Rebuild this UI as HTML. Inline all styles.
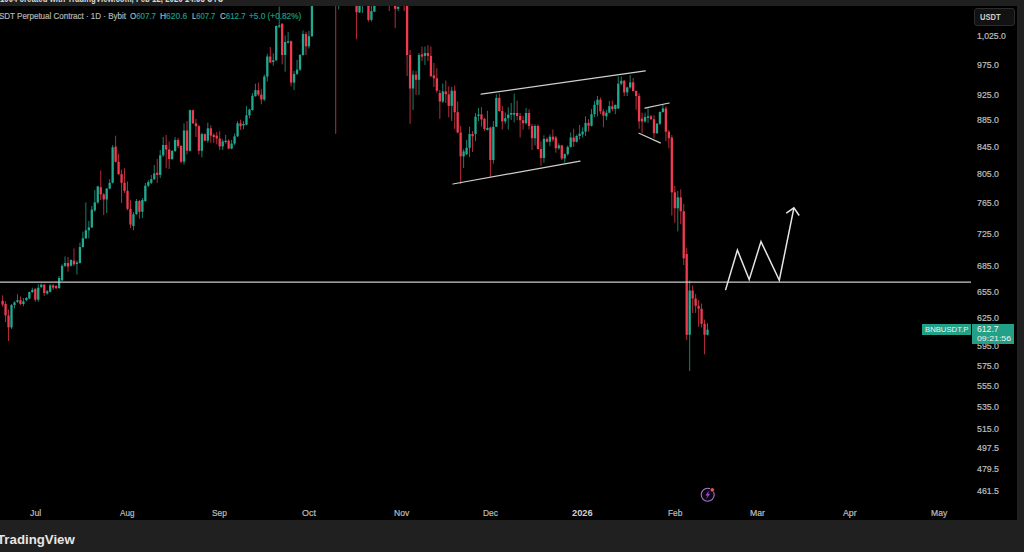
<!DOCTYPE html>
<html><head><meta charset="utf-8">
<style>
*{margin:0;padding:0;box-sizing:border-box}
html,body{width:1024px;height:552px;overflow:hidden;background:#202020;font-family:"Liberation Sans",sans-serif}
#chart{position:absolute;left:0;top:6px;width:1017px;height:514px;background:#000}
svg{position:absolute;left:0;top:0}
.t{position:absolute;white-space:pre;line-height:1;transform-origin:0 0}
.t.n{-webkit-text-stroke:0.2px currentColor}
.usdt{position:absolute;left:973.5px;top:8px;width:41.5px;height:17.5px;border:1px solid #2c2c2c;border-radius:3px;background:#121212}
.bnbl{z-index:1;position:absolute;left:922px;top:324.4px;width:49.2px;height:10.5px;background:#22a088}
.pbox{z-index:1;position:absolute;left:971.9px;top:324.4px;width:42.4px;height:19.4px;background:#22a088}
.topclip{position:absolute;left:0;top:0;width:1024px;height:6px;overflow:hidden}
</style></head><body>
<div id="chart"></div>
<svg width="1024" height="552" viewBox="0 0 1024 552">
<defs><clipPath id="cp"><rect x="0" y="6" width="1017" height="514"/></clipPath></defs>
<g clip-path="url(#cp)">
<rect x="2.08" y="295.3" width="1.0" height="11.4" fill="#f23a4f" fill-opacity="0.75"/><rect x="1.43" y="300.8" width="2.3" height="3.8" fill="#f23a4f"/>
<rect x="5.06" y="301.3" width="1.0" height="20.7" fill="#f23a4f" fill-opacity="0.75"/><rect x="4.41" y="304.0" width="2.3" height="11.4" fill="#f23a4f"/>
<rect x="8.03" y="309.5" width="1.0" height="31.5" fill="#f23a4f" fill-opacity="0.75"/><rect x="7.38" y="315.4" width="2.3" height="12.0" fill="#f23a4f"/>
<rect x="11.00" y="304.0" width="1.0" height="25.0" fill="#21a88f" fill-opacity="0.75"/><rect x="10.35" y="305.1" width="2.3" height="22.3" fill="#21a88f"/>
<rect x="13.98" y="301.3" width="1.0" height="7.1" fill="#21a88f" fill-opacity="0.75"/><rect x="13.33" y="302.4" width="2.3" height="2.7" fill="#21a88f"/>
<rect x="16.95" y="294.2" width="1.0" height="8.8" fill="#21a88f" fill-opacity="0.75"/><rect x="16.30" y="300.2" width="2.3" height="1.6" fill="#21a88f"/>
<rect x="19.93" y="296.4" width="1.0" height="8.7" fill="#f23a4f" fill-opacity="0.75"/><rect x="19.28" y="300.2" width="2.3" height="3.8" fill="#f23a4f"/>
<rect x="22.90" y="298.0" width="1.0" height="8.2" fill="#21a88f" fill-opacity="0.75"/><rect x="22.25" y="301.3" width="2.3" height="2.7" fill="#21a88f"/>
<rect x="25.88" y="297.0" width="1.0" height="4.3" fill="#21a88f" fill-opacity="0.75"/><rect x="25.23" y="298.0" width="2.3" height="2.2" fill="#21a88f"/>
<rect x="28.85" y="291.5" width="1.0" height="7.7" fill="#21a88f" fill-opacity="0.75"/><rect x="28.20" y="292.0" width="2.3" height="6.6" fill="#21a88f"/>
<rect x="31.83" y="287.7" width="1.0" height="5.4" fill="#21a88f" fill-opacity="0.75"/><rect x="31.18" y="289.9" width="2.3" height="2.1" fill="#21a88f"/>
<rect x="34.80" y="288.3" width="1.0" height="13.5" fill="#f23a4f" fill-opacity="0.75"/><rect x="34.15" y="288.8" width="2.3" height="10.9" fill="#f23a4f"/>
<rect x="37.77" y="284.1" width="1.0" height="17.7" fill="#21a88f" fill-opacity="0.75"/><rect x="37.12" y="287.7" width="2.3" height="12.0" fill="#21a88f"/>
<rect x="40.75" y="283.5" width="1.0" height="4.7" fill="#21a88f" fill-opacity="0.75"/><rect x="40.10" y="284.7" width="2.3" height="2.3" fill="#21a88f"/>
<rect x="43.72" y="284.1" width="1.0" height="11.8" fill="#f23a4f" fill-opacity="0.75"/><rect x="43.07" y="284.7" width="2.3" height="8.3" fill="#f23a4f"/>
<rect x="46.70" y="290.0" width="1.0" height="4.7" fill="#21a88f" fill-opacity="0.75"/><rect x="46.05" y="291.2" width="2.3" height="2.3" fill="#21a88f"/>
<rect x="49.67" y="284.1" width="1.0" height="8.3" fill="#21a88f" fill-opacity="0.75"/><rect x="49.02" y="285.3" width="2.3" height="6.5" fill="#21a88f"/>
<rect x="52.65" y="284.1" width="1.0" height="5.9" fill="#f23a4f" fill-opacity="0.75"/><rect x="52.00" y="285.3" width="2.3" height="2.3" fill="#f23a4f"/>
<rect x="55.62" y="285.0" width="1.0" height="4.0" fill="#f23a4f" fill-opacity="0.75"/><rect x="54.97" y="286.0" width="2.3" height="2.2" fill="#f23a4f"/>
<rect x="58.60" y="276.0" width="1.0" height="13.0" fill="#21a88f" fill-opacity="0.75"/><rect x="57.95" y="278.0" width="2.3" height="10.0" fill="#21a88f"/>
<rect x="61.57" y="264.3" width="1.0" height="16.7" fill="#21a88f" fill-opacity="0.75"/><rect x="60.92" y="265.8" width="2.3" height="14.5" fill="#21a88f"/>
<rect x="64.54" y="256.4" width="1.0" height="10.6" fill="#21a88f" fill-opacity="0.75"/><rect x="63.89" y="263.0" width="2.3" height="2.8" fill="#21a88f"/>
<rect x="67.52" y="257.0" width="1.0" height="14.6" fill="#f23a4f" fill-opacity="0.75"/><rect x="66.87" y="263.0" width="2.3" height="3.5" fill="#f23a4f"/>
<rect x="70.49" y="259.3" width="1.0" height="7.2" fill="#21a88f" fill-opacity="0.75"/><rect x="69.84" y="260.0" width="2.3" height="5.8" fill="#21a88f"/>
<rect x="73.47" y="248.4" width="1.0" height="17.4" fill="#f23a4f" fill-opacity="0.75"/><rect x="72.82" y="260.7" width="2.3" height="3.6" fill="#f23a4f"/>
<rect x="76.44" y="260.7" width="1.0" height="13.8" fill="#21a88f" fill-opacity="0.75"/><rect x="75.79" y="262.5" width="2.3" height="1.5" fill="#21a88f"/>
<rect x="79.42" y="242.6" width="1.0" height="21.0" fill="#21a88f" fill-opacity="0.75"/><rect x="78.77" y="247.0" width="2.3" height="16.0" fill="#21a88f"/>
<rect x="82.39" y="231.7" width="1.0" height="16.0" fill="#21a88f" fill-opacity="0.75"/><rect x="81.74" y="238.3" width="2.3" height="8.7" fill="#21a88f"/>
<rect x="85.36" y="202.4" width="1.0" height="36.6" fill="#21a88f" fill-opacity="0.75"/><rect x="84.71" y="230.3" width="2.3" height="8.0" fill="#21a88f"/>
<rect x="88.34" y="220.9" width="1.0" height="17.4" fill="#21a88f" fill-opacity="0.75"/><rect x="87.69" y="227.4" width="2.3" height="2.9" fill="#21a88f"/>
<rect x="91.31" y="206.0" width="1.0" height="22.0" fill="#21a88f" fill-opacity="0.75"/><rect x="90.66" y="209.6" width="2.3" height="17.8" fill="#21a88f"/>
<rect x="94.29" y="190.0" width="1.0" height="21.8" fill="#21a88f" fill-opacity="0.75"/><rect x="93.64" y="202.4" width="2.3" height="8.0" fill="#21a88f"/>
<rect x="97.26" y="185.7" width="1.0" height="18.1" fill="#21a88f" fill-opacity="0.75"/><rect x="96.61" y="186.4" width="2.3" height="16.0" fill="#21a88f"/>
<rect x="100.24" y="170.5" width="1.0" height="29.5" fill="#f23a4f" fill-opacity="0.75"/><rect x="99.59" y="187.2" width="2.3" height="7.2" fill="#f23a4f"/>
<rect x="103.21" y="193.0" width="1.0" height="22.0" fill="#f23a4f" fill-opacity="0.75"/><rect x="102.56" y="194.4" width="2.3" height="5.1" fill="#f23a4f"/>
<rect x="106.19" y="188.0" width="1.0" height="25.0" fill="#21a88f" fill-opacity="0.75"/><rect x="105.54" y="188.6" width="2.3" height="10.9" fill="#21a88f"/>
<rect x="109.16" y="179.2" width="1.0" height="10.1" fill="#21a88f" fill-opacity="0.75"/><rect x="108.51" y="182.8" width="2.3" height="5.8" fill="#21a88f"/>
<rect x="112.13" y="145.1" width="1.0" height="38.4" fill="#21a88f" fill-opacity="0.75"/><rect x="111.48" y="147.3" width="2.3" height="35.5" fill="#21a88f"/>
<rect x="115.11" y="135.7" width="1.0" height="26.8" fill="#f23a4f" fill-opacity="0.75"/><rect x="114.46" y="146.6" width="2.3" height="15.2" fill="#f23a4f"/>
<rect x="118.08" y="153.8" width="1.0" height="21.1" fill="#f23a4f" fill-opacity="0.75"/><rect x="117.43" y="161.8" width="2.3" height="12.3" fill="#f23a4f"/>
<rect x="121.06" y="169.8" width="1.0" height="33.2" fill="#f23a4f" fill-opacity="0.75"/><rect x="120.41" y="174.1" width="2.3" height="8.7" fill="#f23a4f"/>
<rect x="124.03" y="168.3" width="1.0" height="24.7" fill="#f23a4f" fill-opacity="0.75"/><rect x="123.38" y="182.8" width="2.3" height="8.0" fill="#f23a4f"/>
<rect x="127.01" y="181.4" width="1.0" height="29.0" fill="#f23a4f" fill-opacity="0.75"/><rect x="126.36" y="190.8" width="2.3" height="18.1" fill="#f23a4f"/>
<rect x="129.98" y="200.2" width="1.0" height="27.8" fill="#f23a4f" fill-opacity="0.75"/><rect x="129.33" y="208.9" width="2.3" height="15.6" fill="#f23a4f"/>
<rect x="132.96" y="212.0" width="1.0" height="18.3" fill="#21a88f" fill-opacity="0.75"/><rect x="132.31" y="214.3" width="2.3" height="11.7" fill="#21a88f"/>
<rect x="135.93" y="199.0" width="1.0" height="16.0" fill="#21a88f" fill-opacity="0.75"/><rect x="135.28" y="201.0" width="2.3" height="13.0" fill="#21a88f"/>
<rect x="138.90" y="200.0" width="1.0" height="18.7" fill="#f23a4f" fill-opacity="0.75"/><rect x="138.25" y="201.0" width="2.3" height="10.8" fill="#f23a4f"/>
<rect x="141.88" y="198.0" width="1.0" height="20.0" fill="#21a88f" fill-opacity="0.75"/><rect x="141.23" y="200.0" width="2.3" height="11.8" fill="#21a88f"/>
<rect x="144.85" y="183.0" width="1.0" height="19.0" fill="#21a88f" fill-opacity="0.75"/><rect x="144.20" y="185.7" width="2.3" height="15.3" fill="#21a88f"/>
<rect x="147.83" y="180.0" width="1.0" height="7.0" fill="#21a88f" fill-opacity="0.75"/><rect x="147.18" y="182.0" width="2.3" height="3.7" fill="#21a88f"/>
<rect x="150.80" y="175.0" width="1.0" height="9.0" fill="#21a88f" fill-opacity="0.75"/><rect x="150.15" y="179.2" width="2.3" height="3.6" fill="#21a88f"/>
<rect x="153.78" y="165.0" width="1.0" height="15.0" fill="#21a88f" fill-opacity="0.75"/><rect x="153.13" y="173.4" width="2.3" height="5.8" fill="#21a88f"/>
<rect x="156.75" y="159.0" width="1.0" height="23.8" fill="#f23a4f" fill-opacity="0.75"/><rect x="156.10" y="172.7" width="2.3" height="2.2" fill="#f23a4f"/>
<rect x="159.72" y="150.0" width="1.0" height="28.0" fill="#21a88f" fill-opacity="0.75"/><rect x="159.07" y="155.3" width="2.3" height="19.6" fill="#21a88f"/>
<rect x="162.70" y="137.0" width="1.0" height="20.0" fill="#21a88f" fill-opacity="0.75"/><rect x="162.05" y="145.0" width="2.3" height="10.3" fill="#21a88f"/>
<rect x="165.67" y="135.0" width="1.0" height="33.3" fill="#f23a4f" fill-opacity="0.75"/><rect x="165.02" y="145.0" width="2.3" height="4.5" fill="#f23a4f"/>
<rect x="168.65" y="141.5" width="1.0" height="27.5" fill="#f23a4f" fill-opacity="0.75"/><rect x="168.00" y="149.5" width="2.3" height="9.5" fill="#f23a4f"/>
<rect x="171.62" y="150.0" width="1.0" height="10.0" fill="#21a88f" fill-opacity="0.75"/><rect x="170.97" y="151.0" width="2.3" height="8.0" fill="#21a88f"/>
<rect x="174.60" y="137.0" width="1.0" height="15.0" fill="#21a88f" fill-opacity="0.75"/><rect x="173.95" y="140.0" width="2.3" height="11.0" fill="#21a88f"/>
<rect x="177.57" y="138.0" width="1.0" height="10.0" fill="#f23a4f" fill-opacity="0.75"/><rect x="176.92" y="140.0" width="2.3" height="6.0" fill="#f23a4f"/>
<rect x="180.55" y="145.0" width="1.0" height="18.0" fill="#f23a4f" fill-opacity="0.75"/><rect x="179.90" y="146.0" width="2.3" height="15.7" fill="#f23a4f"/>
<rect x="183.52" y="123.3" width="1.0" height="41.3" fill="#21a88f" fill-opacity="0.75"/><rect x="182.87" y="130.5" width="2.3" height="31.2" fill="#21a88f"/>
<rect x="186.49" y="121.0" width="1.0" height="33.4" fill="#f23a4f" fill-opacity="0.75"/><rect x="185.84" y="130.5" width="2.3" height="20.3" fill="#f23a4f"/>
<rect x="189.47" y="109.5" width="1.0" height="42.0" fill="#21a88f" fill-opacity="0.75"/><rect x="188.82" y="110.2" width="2.3" height="40.6" fill="#21a88f"/>
<rect x="192.44" y="109.5" width="1.0" height="14.5" fill="#f23a4f" fill-opacity="0.75"/><rect x="191.79" y="110.2" width="2.3" height="13.1" fill="#f23a4f"/>
<rect x="195.42" y="118.9" width="1.0" height="18.1" fill="#f23a4f" fill-opacity="0.75"/><rect x="194.77" y="123.3" width="2.3" height="2.9" fill="#f23a4f"/>
<rect x="198.39" y="124.7" width="1.0" height="29.7" fill="#f23a4f" fill-opacity="0.75"/><rect x="197.74" y="126.2" width="2.3" height="24.6" fill="#f23a4f"/>
<rect x="201.37" y="132.7" width="1.0" height="24.6" fill="#21a88f" fill-opacity="0.75"/><rect x="200.72" y="134.1" width="2.3" height="16.7" fill="#21a88f"/>
<rect x="204.34" y="133.4" width="1.0" height="8.0" fill="#f23a4f" fill-opacity="0.75"/><rect x="203.69" y="134.1" width="2.3" height="6.6" fill="#f23a4f"/>
<rect x="207.32" y="122.5" width="1.0" height="20.3" fill="#21a88f" fill-opacity="0.75"/><rect x="206.67" y="128.3" width="2.3" height="12.4" fill="#21a88f"/>
<rect x="210.29" y="125.4" width="1.0" height="17.4" fill="#f23a4f" fill-opacity="0.75"/><rect x="209.64" y="128.3" width="2.3" height="7.3" fill="#f23a4f"/>
<rect x="213.26" y="133.4" width="1.0" height="9.4" fill="#f23a4f" fill-opacity="0.75"/><rect x="212.61" y="134.9" width="2.3" height="2.1" fill="#f23a4f"/>
<rect x="216.24" y="132.0" width="1.0" height="12.3" fill="#f23a4f" fill-opacity="0.75"/><rect x="215.59" y="135.6" width="2.3" height="2.9" fill="#f23a4f"/>
<rect x="219.21" y="131.2" width="1.0" height="18.8" fill="#f23a4f" fill-opacity="0.75"/><rect x="218.56" y="138.5" width="2.3" height="7.9" fill="#f23a4f"/>
<rect x="222.19" y="139.2" width="1.0" height="10.8" fill="#21a88f" fill-opacity="0.75"/><rect x="221.54" y="141.4" width="2.3" height="5.0" fill="#21a88f"/>
<rect x="225.16" y="134.9" width="1.0" height="8.7" fill="#21a88f" fill-opacity="0.75"/><rect x="224.51" y="140.7" width="2.3" height="1.3" fill="#21a88f"/>
<rect x="228.14" y="139.2" width="1.0" height="10.1" fill="#f23a4f" fill-opacity="0.75"/><rect x="227.49" y="140.7" width="2.3" height="7.9" fill="#f23a4f"/>
<rect x="231.11" y="139.9" width="1.0" height="9.4" fill="#21a88f" fill-opacity="0.75"/><rect x="230.46" y="143.6" width="2.3" height="5.0" fill="#21a88f"/>
<rect x="234.08" y="133.4" width="1.0" height="11.6" fill="#21a88f" fill-opacity="0.75"/><rect x="233.43" y="136.3" width="2.3" height="7.3" fill="#21a88f"/>
<rect x="237.06" y="121.1" width="1.0" height="15.9" fill="#21a88f" fill-opacity="0.75"/><rect x="236.41" y="123.3" width="2.3" height="13.0" fill="#21a88f"/>
<rect x="240.03" y="119.6" width="1.0" height="10.2" fill="#f23a4f" fill-opacity="0.75"/><rect x="239.38" y="123.3" width="2.3" height="2.9" fill="#f23a4f"/>
<rect x="243.01" y="121.1" width="1.0" height="8.0" fill="#21a88f" fill-opacity="0.75"/><rect x="242.36" y="124.0" width="2.3" height="1.5" fill="#21a88f"/>
<rect x="245.98" y="105.9" width="1.0" height="19.5" fill="#21a88f" fill-opacity="0.75"/><rect x="245.33" y="115.3" width="2.3" height="9.4" fill="#21a88f"/>
<rect x="248.96" y="108.8" width="1.0" height="9.4" fill="#21a88f" fill-opacity="0.75"/><rect x="248.31" y="109.5" width="2.3" height="5.8" fill="#21a88f"/>
<rect x="251.93" y="93.0" width="1.0" height="17.7" fill="#21a88f" fill-opacity="0.75"/><rect x="251.28" y="95.7" width="2.3" height="14.3" fill="#21a88f"/>
<rect x="254.91" y="83.7" width="1.0" height="13.0" fill="#21a88f" fill-opacity="0.75"/><rect x="254.26" y="90.2" width="2.3" height="6.0" fill="#21a88f"/>
<rect x="257.88" y="82.6" width="1.0" height="13.6" fill="#f23a4f" fill-opacity="0.75"/><rect x="257.23" y="90.2" width="2.3" height="4.4" fill="#f23a4f"/>
<rect x="260.85" y="89.1" width="1.0" height="15.2" fill="#f23a4f" fill-opacity="0.75"/><rect x="260.20" y="94.6" width="2.3" height="4.9" fill="#f23a4f"/>
<rect x="263.83" y="74.5" width="1.0" height="26.5" fill="#21a88f" fill-opacity="0.75"/><rect x="263.18" y="76.6" width="2.3" height="22.9" fill="#21a88f"/>
<rect x="266.80" y="53.8" width="1.0" height="27.7" fill="#21a88f" fill-opacity="0.75"/><rect x="266.15" y="56.5" width="2.3" height="20.1" fill="#21a88f"/>
<rect x="269.78" y="47.0" width="1.0" height="16.0" fill="#f23a4f" fill-opacity="0.75"/><rect x="269.13" y="56.5" width="2.3" height="6.0" fill="#f23a4f"/>
<rect x="272.75" y="53.3" width="1.0" height="12.5" fill="#21a88f" fill-opacity="0.75"/><rect x="272.10" y="60.3" width="2.3" height="1.7" fill="#21a88f"/>
<rect x="275.73" y="25.3" width="1.0" height="35.5" fill="#21a88f" fill-opacity="0.75"/><rect x="275.08" y="26.0" width="2.3" height="34.3" fill="#21a88f"/>
<rect x="278.70" y="6.5" width="1.0" height="21.5" fill="#21a88f" fill-opacity="0.75"/><rect x="278.05" y="25.3" width="2.3" height="1.4" fill="#21a88f"/>
<rect x="281.68" y="23.0" width="1.0" height="41.4" fill="#f23a4f" fill-opacity="0.75"/><rect x="281.03" y="23.8" width="2.3" height="31.2" fill="#f23a4f"/>
<rect x="284.65" y="35.4" width="1.0" height="36.3" fill="#21a88f" fill-opacity="0.75"/><rect x="284.00" y="42.0" width="2.3" height="13.0" fill="#21a88f"/>
<rect x="287.62" y="32.0" width="1.0" height="11.5" fill="#21a88f" fill-opacity="0.75"/><rect x="286.97" y="41.2" width="2.3" height="1.5" fill="#21a88f"/>
<rect x="290.60" y="40.5" width="1.0" height="45.9" fill="#f23a4f" fill-opacity="0.75"/><rect x="289.95" y="41.2" width="2.3" height="41.4" fill="#f23a4f"/>
<rect x="293.57" y="71.0" width="1.0" height="19.2" fill="#21a88f" fill-opacity="0.75"/><rect x="292.92" y="73.9" width="2.3" height="8.7" fill="#21a88f"/>
<rect x="296.55" y="59.8" width="1.0" height="15.2" fill="#21a88f" fill-opacity="0.75"/><rect x="295.90" y="69.6" width="2.3" height="4.3" fill="#21a88f"/>
<rect x="299.52" y="54.0" width="1.0" height="17.0" fill="#21a88f" fill-opacity="0.75"/><rect x="298.87" y="55.0" width="2.3" height="14.6" fill="#21a88f"/>
<rect x="302.50" y="30.4" width="1.0" height="25.3" fill="#21a88f" fill-opacity="0.75"/><rect x="301.85" y="34.0" width="2.3" height="21.0" fill="#21a88f"/>
<rect x="305.47" y="31.8" width="1.0" height="23.2" fill="#f23a4f" fill-opacity="0.75"/><rect x="304.82" y="34.0" width="2.3" height="12.3" fill="#f23a4f"/>
<rect x="308.44" y="31.0" width="1.0" height="17.5" fill="#21a88f" fill-opacity="0.75"/><rect x="307.79" y="36.2" width="2.3" height="10.1" fill="#21a88f"/>
<rect x="311.42" y="-20.0" width="1.0" height="57.0" fill="#21a88f" fill-opacity="0.75"/><rect x="310.77" y="-10.0" width="2.3" height="46.2" fill="#21a88f"/>
<rect x="335.21" y="-80.0" width="1.0" height="213.9" fill="#f23a4f" fill-opacity="0.75"/><rect x="334.56" y="-60.0" width="2.3" height="30.0" fill="#f23a4f"/>
<rect x="338.19" y="-40.0" width="1.0" height="49.4" fill="#21a88f" fill-opacity="0.75"/><rect x="337.54" y="-40.0" width="2.3" height="20.0" fill="#21a88f"/>
<rect x="356.04" y="-30.0" width="1.0" height="69.3" fill="#f23a4f" fill-opacity="0.75"/><rect x="355.39" y="-10.0" width="2.3" height="22.3" fill="#f23a4f"/>
<rect x="359.01" y="-20.0" width="1.0" height="33.0" fill="#21a88f" fill-opacity="0.75"/><rect x="358.36" y="-10.0" width="2.3" height="22.3" fill="#21a88f"/>
<rect x="361.98" y="-20.0" width="1.0" height="32.9" fill="#21a88f" fill-opacity="0.75"/><rect x="361.33" y="-15.0" width="2.3" height="10.0" fill="#21a88f"/>
<rect x="367.93" y="-30.0" width="1.0" height="51.7" fill="#f23a4f" fill-opacity="0.75"/><rect x="367.28" y="-15.0" width="2.3" height="34.9" fill="#f23a4f"/>
<rect x="370.91" y="-5.0" width="1.0" height="26.5" fill="#21a88f" fill-opacity="0.75"/><rect x="370.26" y="11.1" width="2.3" height="8.8" fill="#21a88f"/>
<rect x="373.88" y="-10.0" width="1.0" height="22.0" fill="#21a88f" fill-opacity="0.75"/><rect x="373.23" y="-10.0" width="2.3" height="21.7" fill="#21a88f"/>
<rect x="388.75" y="-30.0" width="1.0" height="41.1" fill="#f23a4f" fill-opacity="0.75"/><rect x="388.10" y="-20.0" width="2.3" height="10.0" fill="#f23a4f"/>
<rect x="394.70" y="-20.0" width="1.0" height="48.1" fill="#f23a4f" fill-opacity="0.75"/><rect x="394.05" y="-5.0" width="2.3" height="13.8" fill="#f23a4f"/>
<rect x="397.68" y="-5.0" width="1.0" height="16.1" fill="#21a88f" fill-opacity="0.75"/><rect x="397.03" y="7.0" width="2.3" height="1.8" fill="#21a88f"/>
<rect x="403.63" y="-30.0" width="1.0" height="41.1" fill="#f23a4f" fill-opacity="0.75"/><rect x="402.98" y="-20.0" width="2.3" height="15.0" fill="#f23a4f"/>
<rect x="406.60" y="-20.0" width="1.0" height="96.0" fill="#f23a4f" fill-opacity="0.75"/><rect x="405.95" y="-10.0" width="2.3" height="65.0" fill="#f23a4f"/>
<rect x="409.57" y="50.0" width="1.0" height="73.8" fill="#f23a4f" fill-opacity="0.75"/><rect x="408.92" y="55.0" width="2.3" height="33.5" fill="#f23a4f"/>
<rect x="412.55" y="70.4" width="1.0" height="39.6" fill="#21a88f" fill-opacity="0.75"/><rect x="411.90" y="74.7" width="2.3" height="13.8" fill="#21a88f"/>
<rect x="415.52" y="71.0" width="1.0" height="24.0" fill="#f23a4f" fill-opacity="0.75"/><rect x="414.87" y="74.7" width="2.3" height="5.1" fill="#f23a4f"/>
<rect x="418.50" y="53.0" width="1.0" height="42.0" fill="#21a88f" fill-opacity="0.75"/><rect x="417.85" y="55.0" width="2.3" height="24.8" fill="#21a88f"/>
<rect x="421.47" y="46.5" width="1.0" height="14.5" fill="#f23a4f" fill-opacity="0.75"/><rect x="420.82" y="54.4" width="2.3" height="2.2" fill="#f23a4f"/>
<rect x="424.45" y="46.5" width="1.0" height="18.5" fill="#21a88f" fill-opacity="0.75"/><rect x="423.80" y="53.0" width="2.3" height="2.9" fill="#21a88f"/>
<rect x="427.42" y="45.0" width="1.0" height="16.0" fill="#f23a4f" fill-opacity="0.75"/><rect x="426.77" y="53.0" width="2.3" height="2.9" fill="#f23a4f"/>
<rect x="430.40" y="46.5" width="1.0" height="30.4" fill="#f23a4f" fill-opacity="0.75"/><rect x="429.75" y="55.9" width="2.3" height="20.3" fill="#f23a4f"/>
<rect x="433.37" y="63.0" width="1.0" height="24.0" fill="#f23a4f" fill-opacity="0.75"/><rect x="432.72" y="75.4" width="2.3" height="2.9" fill="#f23a4f"/>
<rect x="436.34" y="68.2" width="1.0" height="24.6" fill="#f23a4f" fill-opacity="0.75"/><rect x="435.69" y="78.3" width="2.3" height="12.4" fill="#f23a4f"/>
<rect x="439.32" y="90.0" width="1.0" height="28.8" fill="#f23a4f" fill-opacity="0.75"/><rect x="438.67" y="93.0" width="2.3" height="8.5" fill="#f23a4f"/>
<rect x="442.29" y="83.4" width="1.0" height="19.6" fill="#21a88f" fill-opacity="0.75"/><rect x="441.64" y="91.4" width="2.3" height="10.1" fill="#21a88f"/>
<rect x="445.27" y="80.5" width="1.0" height="22.5" fill="#f23a4f" fill-opacity="0.75"/><rect x="444.62" y="91.4" width="2.3" height="2.9" fill="#f23a4f"/>
<rect x="448.24" y="86.3" width="1.0" height="31.0" fill="#f23a4f" fill-opacity="0.75"/><rect x="447.59" y="94.3" width="2.3" height="11.6" fill="#f23a4f"/>
<rect x="451.22" y="87.0" width="1.0" height="34.0" fill="#21a88f" fill-opacity="0.75"/><rect x="450.57" y="90.7" width="2.3" height="15.2" fill="#21a88f"/>
<rect x="454.19" y="85.6" width="1.0" height="43.3" fill="#f23a4f" fill-opacity="0.75"/><rect x="453.54" y="90.7" width="2.3" height="21.5" fill="#f23a4f"/>
<rect x="457.16" y="101.5" width="1.0" height="31.8" fill="#f23a4f" fill-opacity="0.75"/><rect x="456.51" y="112.2" width="2.3" height="20.3" fill="#f23a4f"/>
<rect x="460.14" y="126.0" width="1.0" height="58.0" fill="#f23a4f" fill-opacity="0.75"/><rect x="459.49" y="132.5" width="2.3" height="23.9" fill="#f23a4f"/>
<rect x="463.11" y="149.2" width="1.0" height="18.8" fill="#21a88f" fill-opacity="0.75"/><rect x="462.46" y="151.4" width="2.3" height="5.0" fill="#21a88f"/>
<rect x="466.09" y="139.8" width="1.0" height="15.2" fill="#21a88f" fill-opacity="0.75"/><rect x="465.44" y="147.8" width="2.3" height="6.5" fill="#21a88f"/>
<rect x="469.06" y="126.7" width="1.0" height="30.5" fill="#21a88f" fill-opacity="0.75"/><rect x="468.41" y="134.0" width="2.3" height="13.8" fill="#21a88f"/>
<rect x="472.04" y="131.0" width="1.0" height="21.0" fill="#f23a4f" fill-opacity="0.75"/><rect x="471.39" y="134.0" width="2.3" height="2.2" fill="#f23a4f"/>
<rect x="475.01" y="113.0" width="1.0" height="28.2" fill="#21a88f" fill-opacity="0.75"/><rect x="474.36" y="116.6" width="2.3" height="17.4" fill="#21a88f"/>
<rect x="477.99" y="107.9" width="1.0" height="13.1" fill="#21a88f" fill-opacity="0.75"/><rect x="477.34" y="114.4" width="2.3" height="1.5" fill="#21a88f"/>
<rect x="480.96" y="107.2" width="1.0" height="19.5" fill="#f23a4f" fill-opacity="0.75"/><rect x="480.31" y="114.4" width="2.3" height="5.1" fill="#f23a4f"/>
<rect x="483.93" y="118.0" width="1.0" height="13.0" fill="#f23a4f" fill-opacity="0.75"/><rect x="483.28" y="118.8" width="2.3" height="10.1" fill="#f23a4f"/>
<rect x="486.91" y="110.8" width="1.0" height="19.6" fill="#21a88f" fill-opacity="0.75"/><rect x="486.26" y="128.0" width="2.3" height="2.0" fill="#21a88f"/>
<rect x="489.88" y="126.7" width="1.0" height="50.8" fill="#f23a4f" fill-opacity="0.75"/><rect x="489.23" y="127.5" width="2.3" height="32.5" fill="#f23a4f"/>
<rect x="492.86" y="121.0" width="1.0" height="42.7" fill="#21a88f" fill-opacity="0.75"/><rect x="492.21" y="126.7" width="2.3" height="33.3" fill="#21a88f"/>
<rect x="495.83" y="94.3" width="1.0" height="32.7" fill="#21a88f" fill-opacity="0.75"/><rect x="495.18" y="97.9" width="2.3" height="28.8" fill="#21a88f"/>
<rect x="498.81" y="93.6" width="1.0" height="18.1" fill="#f23a4f" fill-opacity="0.75"/><rect x="498.16" y="97.9" width="2.3" height="13.1" fill="#f23a4f"/>
<rect x="501.78" y="105.9" width="1.0" height="23.7" fill="#f23a4f" fill-opacity="0.75"/><rect x="501.13" y="111.0" width="2.3" height="10.4" fill="#f23a4f"/>
<rect x="504.76" y="112.4" width="1.0" height="11.4" fill="#21a88f" fill-opacity="0.75"/><rect x="504.11" y="118.2" width="2.3" height="3.2" fill="#21a88f"/>
<rect x="507.73" y="107.3" width="1.0" height="22.3" fill="#21a88f" fill-opacity="0.75"/><rect x="507.08" y="114.6" width="2.3" height="3.6" fill="#21a88f"/>
<rect x="510.70" y="103.0" width="1.0" height="17.0" fill="#21a88f" fill-opacity="0.75"/><rect x="510.05" y="113.0" width="2.3" height="1.6" fill="#21a88f"/>
<rect x="513.68" y="93.6" width="1.0" height="28.8" fill="#21a88f" fill-opacity="0.75"/><rect x="513.03" y="113.0" width="2.3" height="1.6" fill="#21a88f"/>
<rect x="516.65" y="100.8" width="1.0" height="19.4" fill="#f23a4f" fill-opacity="0.75"/><rect x="516.00" y="113.0" width="2.3" height="3.0" fill="#f23a4f"/>
<rect x="519.63" y="113.0" width="1.0" height="24.6" fill="#f23a4f" fill-opacity="0.75"/><rect x="518.98" y="116.0" width="2.3" height="4.2" fill="#f23a4f"/>
<rect x="522.60" y="116.0" width="1.0" height="13.6" fill="#f23a4f" fill-opacity="0.75"/><rect x="521.95" y="120.2" width="2.3" height="2.9" fill="#f23a4f"/>
<rect x="525.58" y="108.0" width="1.0" height="16.6" fill="#21a88f" fill-opacity="0.75"/><rect x="524.93" y="113.0" width="2.3" height="10.1" fill="#21a88f"/>
<rect x="528.55" y="109.3" width="1.0" height="20.3" fill="#f23a4f" fill-opacity="0.75"/><rect x="527.90" y="113.0" width="2.3" height="13.0" fill="#f23a4f"/>
<rect x="531.52" y="123.8" width="1.0" height="26.2" fill="#f23a4f" fill-opacity="0.75"/><rect x="530.87" y="126.0" width="2.3" height="12.2" fill="#f23a4f"/>
<rect x="534.50" y="124.4" width="1.0" height="21.0" fill="#21a88f" fill-opacity="0.75"/><rect x="533.85" y="126.0" width="2.3" height="12.2" fill="#21a88f"/>
<rect x="537.47" y="124.4" width="1.0" height="25.4" fill="#f23a4f" fill-opacity="0.75"/><rect x="536.82" y="126.0" width="2.3" height="23.0" fill="#f23a4f"/>
<rect x="540.45" y="141.5" width="1.0" height="24.3" fill="#f23a4f" fill-opacity="0.75"/><rect x="539.80" y="149.0" width="2.3" height="9.0" fill="#f23a4f"/>
<rect x="543.42" y="135.3" width="1.0" height="27.5" fill="#21a88f" fill-opacity="0.75"/><rect x="542.77" y="138.9" width="2.3" height="19.1" fill="#21a88f"/>
<rect x="546.40" y="137.5" width="1.0" height="5.0" fill="#f23a4f" fill-opacity="0.75"/><rect x="545.75" y="138.9" width="2.3" height="2.9" fill="#f23a4f"/>
<rect x="549.37" y="134.5" width="1.0" height="11.7" fill="#21a88f" fill-opacity="0.75"/><rect x="548.72" y="136.7" width="2.3" height="5.1" fill="#21a88f"/>
<rect x="552.35" y="129.4" width="1.0" height="12.4" fill="#f23a4f" fill-opacity="0.75"/><rect x="551.70" y="136.7" width="2.3" height="2.9" fill="#f23a4f"/>
<rect x="555.32" y="136.0" width="1.0" height="16.7" fill="#f23a4f" fill-opacity="0.75"/><rect x="554.67" y="137.5" width="2.3" height="10.8" fill="#f23a4f"/>
<rect x="558.29" y="143.3" width="1.0" height="6.5" fill="#21a88f" fill-opacity="0.75"/><rect x="557.64" y="145.4" width="2.3" height="2.9" fill="#21a88f"/>
<rect x="561.27" y="144.7" width="1.0" height="15.3" fill="#f23a4f" fill-opacity="0.75"/><rect x="560.62" y="145.4" width="2.3" height="13.1" fill="#f23a4f"/>
<rect x="564.24" y="153.4" width="1.0" height="9.4" fill="#21a88f" fill-opacity="0.75"/><rect x="563.59" y="154.1" width="2.3" height="4.4" fill="#21a88f"/>
<rect x="567.22" y="145.4" width="1.0" height="10.2" fill="#21a88f" fill-opacity="0.75"/><rect x="566.57" y="146.9" width="2.3" height="7.2" fill="#21a88f"/>
<rect x="570.19" y="132.4" width="1.0" height="15.2" fill="#21a88f" fill-opacity="0.75"/><rect x="569.54" y="137.5" width="2.3" height="9.4" fill="#21a88f"/>
<rect x="573.17" y="128.7" width="1.0" height="18.2" fill="#f23a4f" fill-opacity="0.75"/><rect x="572.52" y="137.5" width="2.3" height="4.3" fill="#f23a4f"/>
<rect x="576.14" y="134.6" width="1.0" height="7.9" fill="#21a88f" fill-opacity="0.75"/><rect x="575.49" y="136.0" width="2.3" height="5.8" fill="#21a88f"/>
<rect x="579.12" y="125.0" width="1.0" height="14.5" fill="#21a88f" fill-opacity="0.75"/><rect x="578.47" y="133.7" width="2.3" height="2.3" fill="#21a88f"/>
<rect x="582.09" y="127.3" width="1.0" height="10.2" fill="#21a88f" fill-opacity="0.75"/><rect x="581.44" y="131.6" width="2.3" height="2.9" fill="#21a88f"/>
<rect x="585.06" y="116.3" width="1.0" height="19.6" fill="#21a88f" fill-opacity="0.75"/><rect x="584.41" y="122.9" width="2.3" height="8.7" fill="#21a88f"/>
<rect x="588.04" y="119.2" width="1.0" height="12.4" fill="#f23a4f" fill-opacity="0.75"/><rect x="587.39" y="122.9" width="2.3" height="2.9" fill="#f23a4f"/>
<rect x="591.01" y="109.1" width="1.0" height="17.4" fill="#21a88f" fill-opacity="0.75"/><rect x="590.36" y="114.2" width="2.3" height="11.6" fill="#21a88f"/>
<rect x="593.99" y="101.0" width="1.0" height="16.0" fill="#21a88f" fill-opacity="0.75"/><rect x="593.34" y="104.8" width="2.3" height="9.4" fill="#21a88f"/>
<rect x="596.96" y="96.0" width="1.0" height="20.3" fill="#21a88f" fill-opacity="0.75"/><rect x="596.31" y="99.7" width="2.3" height="5.1" fill="#21a88f"/>
<rect x="599.94" y="97.5" width="1.0" height="16.7" fill="#f23a4f" fill-opacity="0.75"/><rect x="599.29" y="99.7" width="2.3" height="11.6" fill="#f23a4f"/>
<rect x="602.91" y="109.0" width="1.0" height="18.3" fill="#f23a4f" fill-opacity="0.75"/><rect x="602.26" y="111.3" width="2.3" height="4.3" fill="#f23a4f"/>
<rect x="605.88" y="109.8" width="1.0" height="10.2" fill="#21a88f" fill-opacity="0.75"/><rect x="605.23" y="112.7" width="2.3" height="3.6" fill="#21a88f"/>
<rect x="608.86" y="101.0" width="1.0" height="12.4" fill="#21a88f" fill-opacity="0.75"/><rect x="608.21" y="106.2" width="2.3" height="6.5" fill="#21a88f"/>
<rect x="611.83" y="100.4" width="1.0" height="10.9" fill="#f23a4f" fill-opacity="0.75"/><rect x="611.18" y="106.2" width="2.3" height="2.9" fill="#f23a4f"/>
<rect x="614.81" y="104.8" width="1.0" height="9.4" fill="#21a88f" fill-opacity="0.75"/><rect x="614.16" y="104.8" width="2.3" height="4.3" fill="#21a88f"/>
<rect x="617.78" y="76.5" width="1.0" height="32.5" fill="#21a88f" fill-opacity="0.75"/><rect x="617.13" y="83.7" width="2.3" height="24.7" fill="#21a88f"/>
<rect x="620.76" y="76.5" width="1.0" height="8.7" fill="#21a88f" fill-opacity="0.75"/><rect x="620.11" y="80.8" width="2.3" height="2.9" fill="#21a88f"/>
<rect x="623.73" y="80.0" width="1.0" height="16.0" fill="#f23a4f" fill-opacity="0.75"/><rect x="623.08" y="80.8" width="2.3" height="11.6" fill="#f23a4f"/>
<rect x="626.71" y="86.6" width="1.0" height="9.4" fill="#21a88f" fill-opacity="0.75"/><rect x="626.06" y="87.4" width="2.3" height="5.0" fill="#21a88f"/>
<rect x="629.68" y="75.0" width="1.0" height="13.8" fill="#21a88f" fill-opacity="0.75"/><rect x="629.03" y="82.3" width="2.3" height="5.1" fill="#21a88f"/>
<rect x="632.65" y="78.0" width="1.0" height="13.7" fill="#f23a4f" fill-opacity="0.75"/><rect x="632.00" y="82.3" width="2.3" height="8.7" fill="#f23a4f"/>
<rect x="635.63" y="90.3" width="1.0" height="19.5" fill="#f23a4f" fill-opacity="0.75"/><rect x="634.98" y="91.0" width="2.3" height="5.0" fill="#f23a4f"/>
<rect x="638.60" y="93.2" width="1.0" height="35.6" fill="#f23a4f" fill-opacity="0.75"/><rect x="637.95" y="96.0" width="2.3" height="25.4" fill="#f23a4f"/>
<rect x="641.58" y="112.7" width="1.0" height="20.3" fill="#f23a4f" fill-opacity="0.75"/><rect x="640.93" y="118.6" width="2.3" height="2.8" fill="#f23a4f"/>
<rect x="644.55" y="112.7" width="1.0" height="10.2" fill="#21a88f" fill-opacity="0.75"/><rect x="643.90" y="117.0" width="2.3" height="4.4" fill="#21a88f"/>
<rect x="647.53" y="108.4" width="1.0" height="14.5" fill="#21a88f" fill-opacity="0.75"/><rect x="646.88" y="116.3" width="2.3" height="1.5" fill="#21a88f"/>
<rect x="650.50" y="115.0" width="1.0" height="5.0" fill="#f23a4f" fill-opacity="0.75"/><rect x="649.85" y="116.3" width="2.3" height="2.9" fill="#f23a4f"/>
<rect x="653.48" y="115.0" width="1.0" height="23.2" fill="#f23a4f" fill-opacity="0.75"/><rect x="652.83" y="119.2" width="2.3" height="13.9" fill="#f23a4f"/>
<rect x="656.45" y="123.0" width="1.0" height="11.0" fill="#21a88f" fill-opacity="0.75"/><rect x="655.80" y="123.7" width="2.3" height="9.4" fill="#21a88f"/>
<rect x="659.42" y="111.3" width="1.0" height="13.7" fill="#21a88f" fill-opacity="0.75"/><rect x="658.77" y="112.0" width="2.3" height="11.7" fill="#21a88f"/>
<rect x="662.40" y="104.8" width="1.0" height="7.9" fill="#21a88f" fill-opacity="0.75"/><rect x="661.75" y="108.4" width="2.3" height="3.6" fill="#21a88f"/>
<rect x="665.37" y="106.2" width="1.0" height="34.8" fill="#f23a4f" fill-opacity="0.75"/><rect x="664.72" y="108.4" width="2.3" height="23.3" fill="#f23a4f"/>
<rect x="668.35" y="130.0" width="1.0" height="18.3" fill="#f23a4f" fill-opacity="0.75"/><rect x="667.70" y="131.7" width="2.3" height="6.5" fill="#f23a4f"/>
<rect x="671.32" y="135.0" width="1.0" height="80.5" fill="#f23a4f" fill-opacity="0.75"/><rect x="670.67" y="137.5" width="2.3" height="54.8" fill="#f23a4f"/>
<rect x="674.30" y="185.8" width="1.0" height="37.0" fill="#f23a4f" fill-opacity="0.75"/><rect x="673.65" y="192.3" width="2.3" height="16.0" fill="#f23a4f"/>
<rect x="677.27" y="190.9" width="1.0" height="40.5" fill="#21a88f" fill-opacity="0.75"/><rect x="676.62" y="197.4" width="2.3" height="10.9" fill="#21a88f"/>
<rect x="680.24" y="189.4" width="1.0" height="34.8" fill="#f23a4f" fill-opacity="0.75"/><rect x="679.59" y="197.4" width="2.3" height="13.8" fill="#f23a4f"/>
<rect x="683.22" y="203.9" width="1.0" height="61.1" fill="#f23a4f" fill-opacity="0.75"/><rect x="682.57" y="211.2" width="2.3" height="47.1" fill="#f23a4f"/>
<rect x="686.19" y="248.0" width="1.0" height="91.9" fill="#f23a4f" fill-opacity="0.75"/><rect x="685.54" y="254.0" width="2.3" height="80.8" fill="#f23a4f"/>
<rect x="689.17" y="280.4" width="1.0" height="90.6" fill="#21a88f" fill-opacity="0.75"/><rect x="688.52" y="290.5" width="2.3" height="44.3" fill="#21a88f"/>
<rect x="692.14" y="285.4" width="1.0" height="27.6" fill="#f23a4f" fill-opacity="0.75"/><rect x="691.49" y="290.5" width="2.3" height="8.0" fill="#f23a4f"/>
<rect x="695.12" y="294.0" width="1.0" height="19.0" fill="#f23a4f" fill-opacity="0.75"/><rect x="694.47" y="298.5" width="2.3" height="7.3" fill="#f23a4f"/>
<rect x="698.09" y="300.0" width="1.0" height="26.8" fill="#f23a4f" fill-opacity="0.75"/><rect x="697.44" y="305.8" width="2.3" height="2.9" fill="#f23a4f"/>
<rect x="701.07" y="303.6" width="1.0" height="23.9" fill="#f23a4f" fill-opacity="0.75"/><rect x="700.42" y="308.7" width="2.3" height="15.2" fill="#f23a4f"/>
<rect x="704.04" y="319.6" width="1.0" height="34.7" fill="#f23a4f" fill-opacity="0.75"/><rect x="703.39" y="323.9" width="2.3" height="10.9" fill="#f23a4f"/>
<rect x="707.01" y="323.2" width="1.0" height="12.3" fill="#21a88f" fill-opacity="0.75"/><rect x="706.36" y="329.7" width="2.3" height="5.1" fill="#21a88f"/>

<line x1="0" y1="282.1" x2="971" y2="282.1" stroke="#cccccc" stroke-width="1.3"/>
<line x1="481.1" y1="94.2" x2="645.3" y2="70.9" stroke="#cfcfcf" stroke-width="1.2" stroke-linecap="round"/>
<line x1="452.9" y1="184" x2="580" y2="161.1" stroke="#cfcfcf" stroke-width="1.2" stroke-linecap="round"/>
<line x1="644.9" y1="108.1" x2="669.2" y2="103" stroke="#cfcfcf" stroke-width="1.2" stroke-linecap="round"/>
<line x1="639" y1="133.3" x2="660.3" y2="142.9" stroke="#cfcfcf" stroke-width="1.2" stroke-linecap="round"/>
<polyline points="725.5,290.1 737.4,250.1 749.2,279.6 761,241.6 779.3,280.2 793.9,207.9" fill="none" stroke="#e6e6e6" stroke-width="1.5" stroke-linejoin="miter"/>
<polyline points="786.3,213.1 793.9,207.9 799.2,215.5" fill="none" stroke="#e6e6e6" stroke-width="1.5"/>
<circle cx="707.7" cy="494.7" r="6.5" fill="#0c0512" stroke="#a878c4" stroke-width="1.1"/>
<path d="M709.4 490.2 L705.4 495.6 L707.6 495.6 L706.0 499.2 L710.2 493.8 L708.0 493.8 Z" fill="#9d48d6"/>
<circle cx="712.3" cy="489.9" r="2.2" fill="#e45466" stroke="#000" stroke-width="0.8"/>
</g>
</svg>
<div class="usdt"></div>
<div class="bnbl"></div>
<div class="pbox"></div>
<div class="t" style="left:-0.31px;top:-7.49px;font-size:10.5px;font-weight:bold;color:#d4d4d4;transform:scaleX(0.7468)">1994 created with TradingView.com, Feb 12, 2026 14:38 UTC</div>
<div class="t n" style="left:-1.32px;top:11.77px;font-size:8.9px;font-weight:normal;color:#b4b4b4;transform:scaleX(0.9009)">SDT Perpetual Contract · 1D · Bybit</div>
<div class="t n" style="left:130.08px;top:11.77px;font-size:8.9px;font-weight:normal;color:#b4b4b4;transform:scaleX(0.8940)">O<span style="color:#1c9c86">607.7</span></div>
<div class="t n" style="left:160.46px;top:11.77px;font-size:8.9px;font-weight:normal;color:#b4b4b4;transform:scaleX(0.9494)">H<span style="color:#1c9c86">620.6</span></div>
<div class="t n" style="left:191.69px;top:11.77px;font-size:8.9px;font-weight:normal;color:#b4b4b4;transform:scaleX(0.8584)">L<span style="color:#1c9c86">607.7</span></div>
<div class="t n" style="left:219.68px;top:11.77px;font-size:8.9px;font-weight:normal;color:#b4b4b4;transform:scaleX(0.8956)">C<span style="color:#1c9c86">612.7</span></div>
<div class="t n" style="left:249.47px;top:11.77px;font-size:8.9px;font-weight:normal;color:#1c9c86;transform:scaleX(0.9291)">+5.0 (+0.82%)</div>
<div class="t n" style="left:977.05px;top:32.45px;font-size:8.5px;font-weight:normal;color:#bdbdbd;transform:scaleX(1.0182)">1,025.0</div>
<div class="t n" style="left:977.05px;top:61.20px;font-size:8.5px;font-weight:normal;color:#bdbdbd;transform:scaleX(1.0339)">975.0</div>
<div class="t n" style="left:977.05px;top:91.15px;font-size:8.5px;font-weight:normal;color:#bdbdbd;transform:scaleX(1.0339)">925.0</div>
<div class="t n" style="left:977.05px;top:116.19px;font-size:8.5px;font-weight:normal;color:#bdbdbd;transform:scaleX(1.0339)">885.0</div>
<div class="t n" style="left:977.05px;top:142.67px;font-size:8.5px;font-weight:normal;color:#bdbdbd;transform:scaleX(1.0339)">845.0</div>
<div class="t n" style="left:977.05px;top:170.33px;font-size:8.5px;font-weight:normal;color:#bdbdbd;transform:scaleX(1.0339)">805.0</div>
<div class="t n" style="left:977.05px;top:199.20px;font-size:8.5px;font-weight:normal;color:#bdbdbd;transform:scaleX(1.0339)">765.0</div>
<div class="t n" style="left:977.05px;top:229.75px;font-size:8.5px;font-weight:normal;color:#bdbdbd;transform:scaleX(1.0339)">725.0</div>
<div class="t n" style="left:977.05px;top:262.42px;font-size:8.5px;font-weight:normal;color:#bdbdbd;transform:scaleX(1.0339)">685.0</div>
<div class="t n" style="left:977.05px;top:287.88px;font-size:8.5px;font-weight:normal;color:#bdbdbd;transform:scaleX(1.0339)">655.0</div>
<div class="t n" style="left:977.05px;top:314.39px;font-size:8.5px;font-weight:normal;color:#bdbdbd;transform:scaleX(1.0339)">625.0</div>
<div class="t n" style="left:977.05px;top:342.45px;font-size:8.5px;font-weight:normal;color:#bdbdbd;transform:scaleX(1.0339)">595.0</div>
<div class="t n" style="left:977.05px;top:361.69px;font-size:8.5px;font-weight:normal;color:#bdbdbd;transform:scaleX(1.0339)">575.0</div>
<div class="t n" style="left:977.05px;top:382.23px;font-size:8.5px;font-weight:normal;color:#bdbdbd;transform:scaleX(1.0339)">555.0</div>
<div class="t n" style="left:977.05px;top:403.23px;font-size:8.5px;font-weight:normal;color:#bdbdbd;transform:scaleX(1.0339)">535.0</div>
<div class="t n" style="left:977.05px;top:425.09px;font-size:8.5px;font-weight:normal;color:#bdbdbd;transform:scaleX(1.0339)">515.0</div>
<div class="t n" style="left:977.05px;top:444.49px;font-size:8.5px;font-weight:normal;color:#bdbdbd;transform:scaleX(1.0339)">497.5</div>
<div class="t n" style="left:977.05px;top:465.39px;font-size:8.5px;font-weight:normal;color:#bdbdbd;transform:scaleX(1.0339)">479.5</div>
<div class="t n" style="left:977.05px;top:487.04px;font-size:8.5px;font-weight:normal;color:#bdbdbd;transform:scaleX(1.0339)">461.5</div>
<div class="t n" style="left:29.70px;top:509.12px;font-size:8.6px;font-weight:normal;color:#bdbdbd;transform:scaleX(1.0182)">Jul</div>
<div class="t n" style="left:120.40px;top:509.12px;font-size:8.6px;font-weight:normal;color:#bdbdbd;transform:scaleX(0.9412)">Aug</div>
<div class="t n" style="left:212.14px;top:509.12px;font-size:8.6px;font-weight:normal;color:#bdbdbd;transform:scaleX(0.9754)">Sep</div>
<div class="t n" style="left:301.92px;top:509.12px;font-size:8.6px;font-weight:normal;color:#bdbdbd;transform:scaleX(1.0444)">Oct</div>
<div class="t n" style="left:393.66px;top:509.12px;font-size:8.6px;font-weight:normal;color:#bdbdbd;transform:scaleX(0.9925)">Nov</div>
<div class="t n" style="left:482.64px;top:509.12px;font-size:8.6px;font-weight:normal;color:#bdbdbd;transform:scaleX(0.9754)">Dec</div>
<div class="t" style="left:572.38px;top:509.12px;font-size:8.6px;font-weight:bold;color:#d0d0d0;transform:scaleX(1.0848)">2026</div>
<div class="t n" style="left:667.89px;top:509.12px;font-size:8.6px;font-weight:normal;color:#bdbdbd;transform:scaleX(0.9735)">Feb</div>
<div class="t n" style="left:750.43px;top:509.12px;font-size:8.6px;font-weight:normal;color:#bdbdbd;transform:scaleX(1.0089)">Mar</div>
<div class="t n" style="left:843.40px;top:509.12px;font-size:8.6px;font-weight:normal;color:#bdbdbd;transform:scaleX(1.0247)">Apr</div>
<div class="t n" style="left:931.41px;top:509.12px;font-size:8.6px;font-weight:normal;color:#bdbdbd;transform:scaleX(0.9960)">May</div>
<div class="t" style="left:980.30px;top:12.73px;font-size:9.3px;font-weight:bold;color:#cdcdcd;transform:scaleX(0.8141)">USDT</div>
<div class="t n" style="z-index:2;-webkit-text-stroke:0;left:925.49px;top:326.22px;font-size:7.3px;font-weight:normal;color:#f0f0f0;transform:scaleX(1.0577)">BNBUSDT.P</div>
<div class="t n" style="z-index:2;-webkit-text-stroke:0;left:976.65px;top:325.66px;font-size:8.2px;font-weight:normal;color:#f4f4f4;transform:scaleX(1.0532)">612.7</div>
<div class="t n" style="z-index:2;-webkit-text-stroke:0;left:976.65px;top:335.14px;font-size:7.4px;font-weight:normal;color:#f0f0f0;transform:scaleX(1.1848)">09:21:56</div>
<div class="t" style="left:-3.03px;top:533.73px;font-size:12.6px;font-weight:bold;color:#e6e6e6;transform:scaleX(1.0515)">TradingView</div>
</body></html>
